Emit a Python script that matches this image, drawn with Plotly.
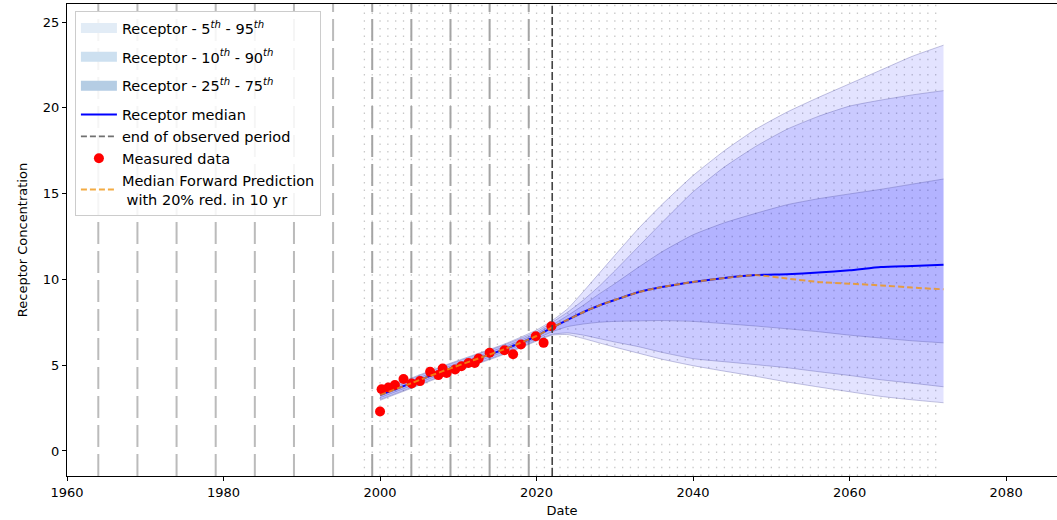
import plotly.graph_objects as go

# ---- data -----------------------------------------------------------------
years = [2000, 2004, 2008, 2012, 2016, 2020, 2022, 2024, 2026, 2028, 2030,
         2033, 2036, 2040, 2044, 2048, 2052, 2056, 2060, 2064, 2068, 2072]

p05 = [2.95, 3.65, 4.35, 5.0, 5.65, 6.4, 6.75, 6.78, 6.55, 6.3, 6.05,
       5.7, 5.35, 4.97, 4.65, 4.35, 4.02, 3.73, 3.45, 3.18, 2.98, 2.81]
p10 = [3.0, 3.7, 4.4, 5.05, 5.7, 6.45, 6.8, 6.88, 6.75, 6.55, 6.35,
       6.08, 5.75, 5.38, 5.2, 5.03, 4.85, 4.62, 4.4, 4.15, 3.95, 3.74]
p25 = [3.1, 3.8, 4.5, 5.15, 5.8, 6.55, 6.95, 7.25, 7.4, 7.5, 7.55,
       7.58, 7.6, 7.55, 7.42, 7.28, 7.12, 6.95, 6.75, 6.58, 6.42, 6.3]
p75 = [3.4, 4.1, 4.8, 5.45, 6.1, 6.85, 7.35, 7.9, 8.5, 9.15, 9.75,
       10.7, 11.6, 12.6, 13.3, 13.85, 14.35, 14.7, 14.98, 15.25, 15.55, 15.85]
p90 = [3.5, 4.2, 4.9, 5.55, 6.2, 6.95, 7.5, 8.1, 8.8, 9.6, 10.5,
       11.9, 13.3, 15.1, 16.55, 17.75, 18.75, 19.5, 20.1, 20.45, 20.75, 21.0]
p95 = [3.55, 4.25, 4.95, 5.6, 6.25, 7.05, 7.6, 8.3, 9.3, 10.35, 11.4,
       12.95, 14.35, 16.05, 17.5, 18.75, 19.75, 20.6, 21.4, 22.2, 23.0, 23.65]

median = [3.25, 3.95, 4.65, 5.3, 5.95, 6.7, 7.2, 7.65, 8.1, 8.48, 8.8,
          9.25, 9.55, 9.85, 10.08, 10.25, 10.3, 10.4, 10.53, 10.72, 10.78, 10.85]
median_reduced = [3.25, 3.95, 4.65, 5.3, 5.95, 6.7, 7.2, 7.65, 8.1, 8.48, 8.8,
                  9.25, 9.55, 9.85, 10.08, 10.25, 10.05, 9.85, 9.75, 9.65, 9.52, 9.42]

measured_dates = [2000.0, 2000.2, 2001.06, 2001.9, 2003.0, 2004.05, 2005.1, 2006.4,
                  2007.45, 2008.0, 2008.5, 2009.6, 2010.4, 2011.3, 2012.1, 2012.6,
                  2014.0, 2015.9, 2017.0, 2018.0, 2019.9, 2020.9, 2021.9]
measured_vals = [2.3, 3.6, 3.7, 3.84, 4.19, 3.93, 4.07, 4.61,
                 4.42, 4.81, 4.55, 4.75, 4.94, 5.13, 5.13, 5.39,
                 5.72, 5.87, 5.64, 6.2, 6.69, 6.3, 7.27]

sample_years = list(range(1964, 2020, 5))       # dashed sampling markers
annual_years = list(range(1998, 2072))          # dotted yearly markers
end_observed = 2022

x_ticks = [1960, 1980, 2000, 2020, 2040, 2060, 2080]
y_ticks = [0, 5, 10, 15, 20, 25]

# ---- figure ---------------------------------------------------------------
fig = go.Figure()

band_fill = "rgba(0,0,255,0.11)"
band_edge = "rgba(70,70,150,0.45)"
bands = [(p05, p95), (p10, p90), (p25, p75)]
for lo, hi in bands:
    fig.add_trace(go.Scatter(x=years, y=lo, mode="lines", showlegend=False,
                             line=dict(color=band_edge, width=0.7, shape="spline", smoothing=0.5),
                             hoverinfo="skip"))
    fig.add_trace(go.Scatter(x=years, y=hi, mode="lines", showlegend=False, fill="tonexty",
                             fillcolor=band_fill,
                             line=dict(color=band_edge, width=0.7, shape="spline", smoothing=0.5),
                             hoverinfo="skip"))

# legend swatches for the bands (each in its own group for extra spacing)
legend_patches = [
    ("Receptor - 5<sup><i>th</i></sup> - 95<sup><i>th</i></sup>", "#e2ecf6"),
    ("Receptor - 10<sup><i>th</i></sup> - 90<sup><i>th</i></sup>", "#cde0f0"),
    ("Receptor - 25<sup><i>th</i></sup> - 75<sup><i>th</i></sup>", "#b5cde4"),
]
for i, (name, col) in enumerate(legend_patches):
    fig.add_trace(go.Scatter(x=[None], y=[None], mode="lines", name=name,
                             legendgroup=f"band{i}",
                             line=dict(color=col, width=10)))

fig.add_trace(go.Scatter(x=years, y=median, mode="lines", name="Receptor median",
                         legendgroup="lines",
                         line=dict(color="blue", width=2, shape="spline", smoothing=0.5)))

fig.add_trace(go.Scatter(x=[None], y=[None], mode="lines", name="end of observed period",
                         legendgroup="lines",
                         line=dict(color="#707070", width=1.6, dash="6px,3px")))

fig.add_trace(go.Scatter(x=measured_dates, y=measured_vals, mode="markers", name="Measured data",
                         legendgroup="lines",
                         marker=dict(color="red", size=10, line=dict(width=0))))

fig.add_trace(go.Scatter(x=years, y=median_reduced, mode="lines",
                         name="Median Forward Prediction<br> with 20% red. in 10 yr",
                         legendgroup="lines",
                         line=dict(color="rgba(240,150,20,0.8)", width=2, dash="6px,3px",
                                   shape="spline", smoothing=0.5)))

shapes = []
for yr in annual_years:
    shapes.append(dict(type="line", xref="x", yref="paper", x0=yr, x1=yr, y0=0, y1=1,
                       layer="below", line=dict(color="#c8c8c8", width=1.3, dash="1.5px,6.2px")))
for yr in sample_years:
    col = "#bbbbbb" if yr < 1999 else "#a4a4a4"
    shapes.append(dict(type="line", xref="x", yref="paper", x0=yr, x1=yr, y0=0, y1=1,
                       layer="below", line=dict(color=col, width=2, dash="22px,7px")))
shapes.append(dict(type="line", xref="x", yref="paper", x0=end_observed, x1=end_observed,
                   y0=0, y1=1, layer="above",
                   line=dict(color="#444444", width=1.6, dash="8px,3px")))

font = "DejaVu Sans, sans-serif"
fig.update_layout(
    width=1057, height=520,
    margin=dict(l=67, r=0, t=4, b=44),
    paper_bgcolor="white", plot_bgcolor="white",
    font=dict(family=font, size=13, color="black"),
    shapes=shapes,
    showlegend=True,
    legend=dict(x=0.008, y=0.985, xanchor="left", yanchor="top", traceorder="grouped",
                groupclick="toggleitem",
                bgcolor="rgba(255,255,255,0.85)", bordercolor="#cccccc", borderwidth=1,
                font=dict(family=font, size=14.5), tracegroupgap=7, itemwidth=36),
    xaxis=dict(range=[1960, 2086.5], tickvals=x_ticks, ticks="outside", ticklen=4,
               tickcolor="black", showgrid=False, zeroline=False, showline=True,
               linecolor="black", linewidth=1, mirror=True,
               title=dict(text="Date", standoff=7, font=dict(size=13))),
    yaxis=dict(range=[-1.46, 26.05], tickvals=y_ticks, ticks="outside", ticklen=4,
               tickcolor="black", showgrid=False, zeroline=False, showline=True,
               linecolor="black", linewidth=1,
               title=dict(text="Receptor Concentration", standoff=12, font=dict(size=13))),
)

fig.write_html("out.html")
